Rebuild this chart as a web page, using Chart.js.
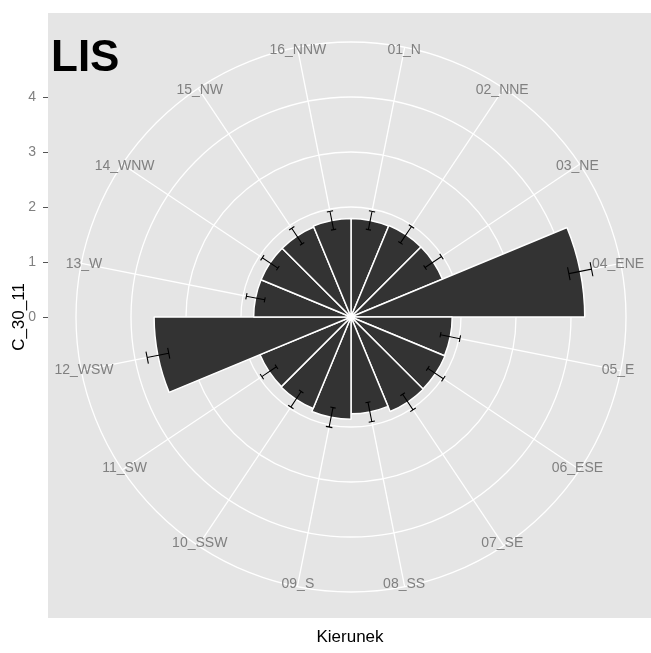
<!DOCTYPE html>
<html>
<head>
<meta charset="utf-8">
<script src="https://cdn.jsdelivr.net/npm/chart.js@4/dist/chart.umd.min.js"></script>
<style>
  html, body { margin: 0; padding: 0; background: #ffffff; }
  #wrap { width: 651px; height: 653px; position: relative; }
</style>
</head>
<body>
<div id="wrap"><canvas id="rose"></canvas></div>
<script>
// Wind directions (sectors, clockwise from north)
const directions = ['01_N', '02_NNE', '03_NE', '04_ENE', '05_E', '06_ESE', '07_SE', '08_SS',
                    '09_S', '10_SSW', '11_SW', '12_WSW', '13_W', '14_WNW', '15_NW', '16_NNW'];
// Mean value per direction
const means = [1.79, 1.80, 1.80, 4.25, 1.84, 1.85, 1.86, 1.76,
               1.86, 1.80, 1.79, 3.58, 1.77, 1.77, 1.77, 1.79];
// Half-width of the error bar per direction
const errors = [0.17, 0.18, 0.18, 0.21, 0.18, 0.17, 0.17, 0.18,
                0.18, 0.17, 0.16, 0.20, 0.17, 0.17, 0.17, 0.17];
// Radial axis
const radialTicks = [0, 1, 2, 3, 4];
const radialMax = 5;

const plotTitle = 'LIS';
const yTitle = 'C_30_11';
const xTitle = 'Kierunek';

const FONT = '"Liberation Sans", Arial, Helvetica, sans-serif';
const PANEL = { x: 48, y: 13, w: 603, h: 605 };
const CAP_HALF = 0.075;   // error bar cap half-width, as a fraction of one sector

const polarDecor = {
  id: 'polarDecor',
  beforeDraw(chart) {
    const ctx = chart.ctx;
    ctx.save();
    ctx.fillStyle = '#E5E5E5';
    ctx.fillRect(PANEL.x, PANEL.y, PANEL.w, PANEL.h);
    ctx.restore();
  },
  beforeDatasetsDraw(chart) {
    // spokes through the middle of each sector
    const r = chart.scales.r, ctx = chart.ctx;
    const outer = r.getDistanceFromCenterForValue(radialMax);
    ctx.save();
    ctx.strokeStyle = '#ffffff';
    ctx.lineWidth = 1.3;
    directions.forEach((d, i) => {
      const p = r.getPointPosition(i + 0.5, outer);
      ctx.beginPath();
      ctx.moveTo(r.xCenter, r.yCenter);
      ctx.lineTo(p.x, p.y);
      ctx.stroke();
    });
    ctx.restore();
  },
  afterDatasetsDraw(chart) {
    const r = chart.scales.r, ctx = chart.ctx;
    ctx.save();
    // error bars
    ctx.strokeStyle = '#000000';
    ctx.lineWidth = 1.1;
    means.forEach((m, i) => {
      const lo = r.getDistanceFromCenterForValue(m - errors[i]);
      const hi = r.getDistanceFromCenterForValue(m + errors[i]);
      const a = r.getPointPosition(i + 0.5, lo);
      const b = r.getPointPosition(i + 0.5, hi);
      ctx.beginPath();
      ctx.moveTo(a.x, a.y); ctx.lineTo(b.x, b.y);
      [lo, hi].forEach(dist => {
        const c1 = r.getPointPosition(i + 0.5 - CAP_HALF, dist);
        const c2 = r.getPointPosition(i + 0.5 + CAP_HALF, dist);
        ctx.moveTo(c1.x, c1.y); ctx.lineTo(c2.x, c2.y);
      });
      ctx.stroke();
    });
    // small white hub where the sector outlines meet
    ctx.fillStyle = '#ffffff';
    ctx.beginPath();
    ctx.arc(r.xCenter, r.yCenter, 2.5, 0, Math.PI * 2);
    ctx.fill();
    // direction labels
    ctx.fillStyle = '#808080';
    ctx.font = '14px ' + FONT;
    ctx.textAlign = 'center';
    ctx.textBaseline = 'middle';
    const labR = r.getDistanceFromCenterForValue(4.95);
    directions.forEach((d, i) => {
      const p = r.getPointPosition(i + 0.5, labR);
      ctx.fillText(d, p.x, p.y);
    });
    ctx.restore();
  },
  afterDraw(chart) {
    const r = chart.scales.r, ctx = chart.ctx;
    ctx.save();
    // radial axis on the left edge of the panel
    ctx.fillStyle = '#808080';
    ctx.strokeStyle = '#555555';
    ctx.lineWidth = 1;
    ctx.font = '14px ' + FONT;
    ctx.textAlign = 'right';
    ctx.textBaseline = 'middle';
    radialTicks.forEach(v => {
      const y = r.yCenter - r.getDistanceFromCenterForValue(v);
      ctx.fillText(String(v), 36, y);
      ctx.beginPath();
      ctx.moveTo(43, Math.round(y) + 0.5);
      ctx.lineTo(48, Math.round(y) + 0.5);
      ctx.stroke();
    });
    // axis titles
    ctx.fillStyle = '#000000';
    ctx.font = '17px ' + FONT;
    ctx.textAlign = 'center';
    ctx.textBaseline = 'middle';
    ctx.fillText(xTitle, 350, 637);
    ctx.save();
    ctx.translate(19, r.yCenter);
    ctx.rotate(-Math.PI / 2);
    ctx.fillText(yTitle, 0, 0);
    ctx.restore();
    // panel title
    ctx.font = 'bold 44px ' + FONT;
    ctx.textAlign = 'left';
    ctx.textBaseline = 'alphabetic';
    ctx.fillText(plotTitle, 51, 71);
    ctx.restore();
  }
};

new Chart(document.getElementById('rose'), {
  type: 'polarArea',
  data: {
    labels: directions,
    datasets: [{
      data: means,
      backgroundColor: '#333333',
      borderColor: '#ffffff',
      borderWidth: 1.5
    }]
  },
  options: {
    responsive: true,
    maintainAspectRatio: false,
    animation: false,
    layout: { padding: { left: 76, right: 25, top: 42, bottom: 61 } },
    plugins: { legend: { display: false }, tooltip: { enabled: false } },
    scales: {
      r: {
        min: 0,
        max: radialMax,
        startAngle: 0,
        ticks: { display: false, stepSize: 1 },
        grid: { display: true, circular: true, color: '#ffffff', lineWidth: 1.3 },
        angleLines: { display: false },
        pointLabels: { display: false }
      }
    }
  },
  plugins: [polarDecor]
});
</script>
</body>
</html>
